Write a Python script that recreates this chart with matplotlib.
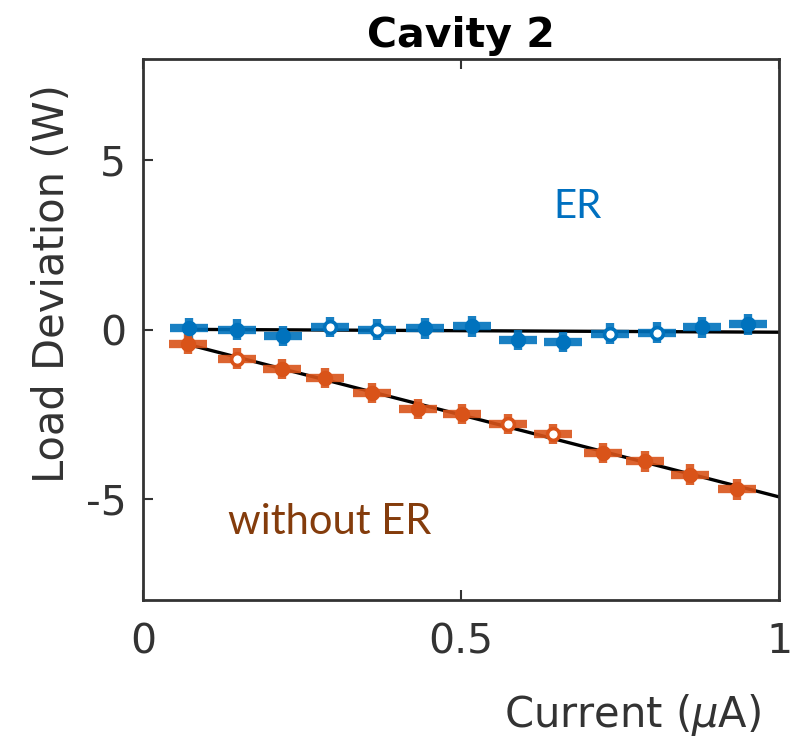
import matplotlib
matplotlib.use("Agg")
import matplotlib.pyplot as plt
import numpy as np

# Measured load deviation vs beam current, cavity 2
current_er = [0.072, 0.148, 0.220, 0.294, 0.368, 0.443, 0.517, 0.590, 0.660, 0.734, 0.808, 0.879, 0.951]
dev_er = [0.03, 0.00, -0.20, 0.08, 0.00, 0.03, 0.09, -0.30, -0.36, -0.12, -0.09, 0.06, 0.15]
open_er = [3, 4, 9, 10]

current_noer = [0.071, 0.148, 0.219, 0.286, 0.360, 0.432, 0.502, 0.574, 0.645, 0.723, 0.789, 0.860, 0.934]
dev_noer = [-0.42, -0.86, -1.16, -1.43, -1.88, -2.35, -2.50, -2.80, -3.10, -3.66, -3.90, -4.29, -4.73]
open_noer = [1, 7, 8]

x_err = 0.03
y_err = 0.3

# Linear fits (intercept, slope)
fit_er = (0.01, -0.09)
fit_noer = (-0.10, -4.85)

blue = "#0072BD"
orange = "#D95319"
axis_gray = "#333333"

plt.rcParams["font.family"] = ["DejaVu Sans"]

fig = plt.figure(figsize=(8.05, 7.41), dpi=100)
ax = fig.add_axes([143 / 805, 1 - 600 / 741, 636 / 805, 541 / 741])


def draw_series(xs, ys, open_idx, color, fit):
    xs = np.asarray(xs)
    ys = np.asarray(ys)
    x0 = xs.min()
    xf = np.array([x0, 1.0])
    ax.plot(xf, fit[0] + fit[1] * xf, color="black", lw=2.4, zorder=2)
    ax.errorbar(xs, ys, xerr=x_err, yerr=y_err, fmt="none", ecolor=color,
                elinewidth=6, capsize=0, zorder=3, alpha=0.9)
    for i, (x, y) in enumerate(zip(xs, ys)):
        face = "white" if i in open_idx else color
        ax.plot(x, y, marker="o", ms=8.5, mfc=face, mec=color, mew=2.6,
                zorder=4, ls="none")


draw_series(current_er, dev_er, open_er, blue, fit_er)
draw_series(current_noer, dev_noer, open_noer, orange, fit_noer)

ax.set_xlim(0, 1)
ax.set_ylim(-8, 8)
ax.set_xticks([0, 0.5, 1])
ax.set_xticklabels(["0", "0.5", "1"])
ax.set_yticks([-5, 0, 5])
ax.set_yticklabels(["-5", "0", "5"])
ax.tick_params(direction="in", length=7, width=1.5, colors=axis_gray,
               labelsize=29.5, top=True, right=False, pad=12)
ax.tick_params(axis="x", pad=16)
for sp in ax.spines.values():
    sp.set_color(axis_gray)
    sp.set_linewidth(2.0)

ax.set_title("Cavity 2", fontsize=29.5, fontweight="bold", color="black", pad=9)
ax.set_ylabel("Load Deviation (W)", fontsize=30, color=axis_gray)
ax.yaxis.set_label_coords(-0.11, 0.585)
ax.set_xlabel(r"Current ($\mu$A)", fontsize=30, color=axis_gray)
ax.xaxis.set_label_coords(0.77, -0.17)

ax.text(0.684, 3.63, "ER", color="#0070C0", fontsize=29, family="Lato",
        ha="center", va="center")
ax.text(0.294, -5.68, "without ER", color="#843C0C", fontsize=30, family="Lato",
        ha="center", va="center")

fig.savefig("out.png", dpi=100, facecolor="white")
